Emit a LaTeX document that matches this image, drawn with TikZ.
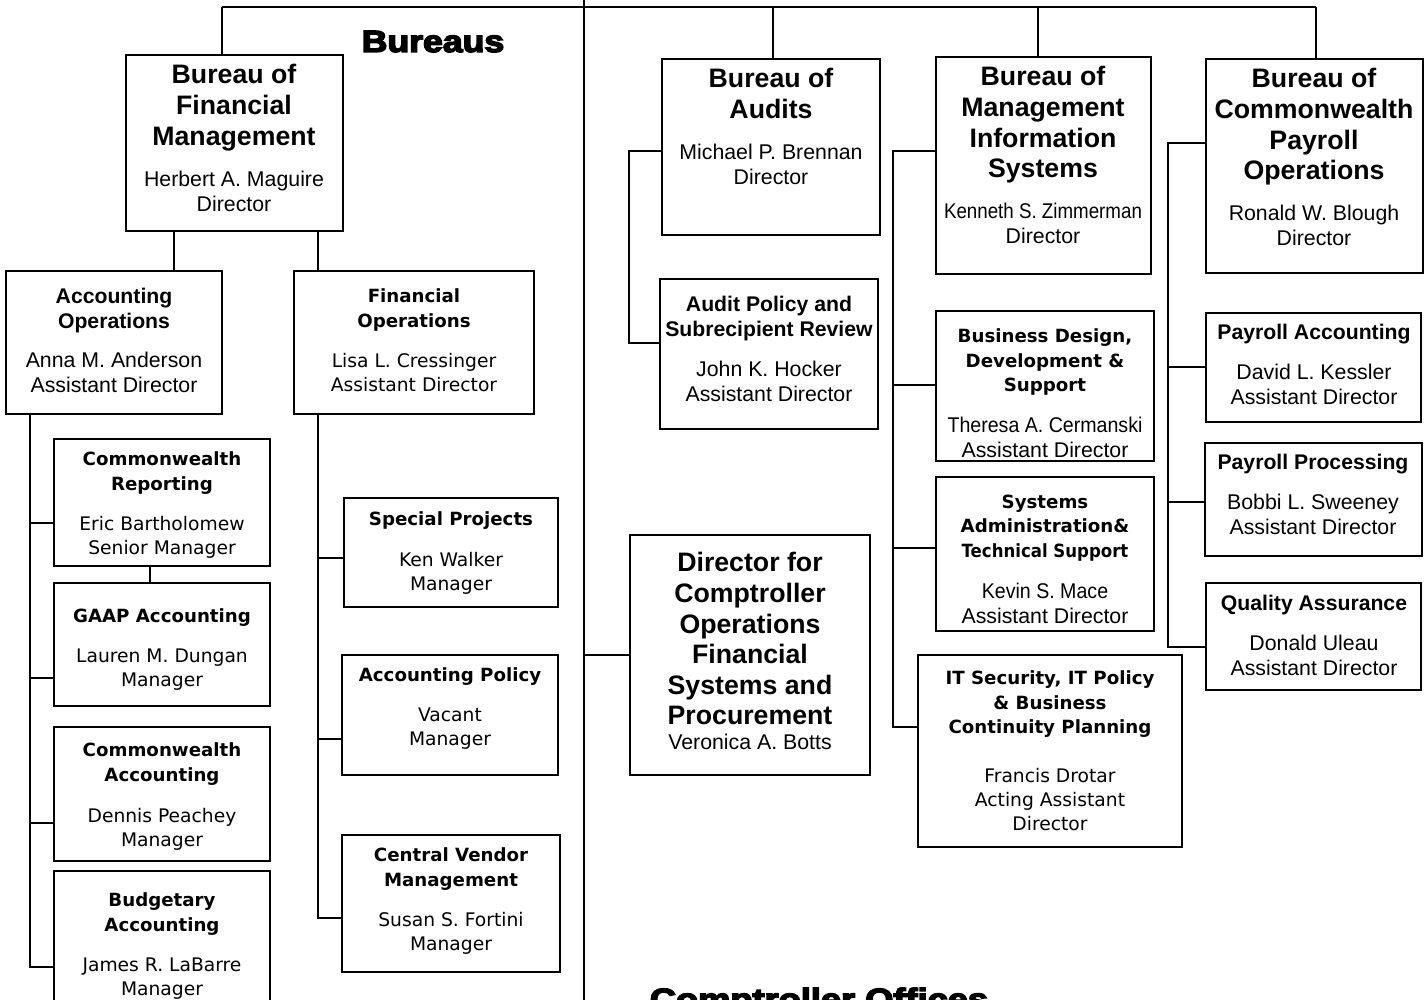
\documentclass[tikz,border=0pt]{standalone}
\usepackage{fontspec}
\usepackage{graphicx}
\setmainfont{Liberation Sans}
\newfontfamily\dvfont{DejaVu Sans}
\newfontfamily\heavyfont{Liberation Sans}[BoldFeatures={FakeBold=4.5}]
\newcommand\fBig{\fontsize{26.7}{30.6}\selectfont\bfseries}
\newcommand\fNm{\fontsize{21.3}{24.5}\selectfont}
\newcommand\fSt{\fontsize{21.2}{24.8}\selectfont\bfseries}
\newcommand\fDt{\dvfont\fontsize{18.2}{24.3}\selectfont\bfseries}
\newcommand\fDn{\dvfont\fontsize{18.7}{24.3}\selectfont}
\newcommand\fHead{\heavyfont\fontsize{30.7}{34}\selectfont\bfseries}
\newcommand\orgbox[5]{%
  \node[obox, minimum width={(#4-#2)*1pt}, minimum height={(#5-#3)*1pt}] (#1) at ({(#2+#4)/2},{(#3+#5)/2}) {};}
\begin{document}
\begin{tikzpicture}[x=1pt,y=-1pt,
  obox/.style={draw, line width=1.8pt, inner sep=0pt},
  tx/.style={anchor=north, align=center, inner sep=0pt},
  ln/.style={line width=1.7pt}]
\path[use as bounding box, clip] (0,0) rectangle (1428,1000);
\fill[white] (0,0) rectangle (1428,1000);

% headings
\node[anchor=base, inner sep=0pt, font=\fHead] (hb) at (433,52) {\scalebox{1.16}[1]{Bureaus}};
\node[anchor=base, inner sep=0pt, font=\fHead] (hc) at (819,1010) {\scalebox{1.18}[1]{Comptroller Offices}};

% boxes
\orgbox{bfm}{126}{55}{343}{231}
\node[tx, font=\fBig] (bfm-t) at (234,64.4) {Bureau of\\Financial\\Management};
\node[tx, font=\fNm] (bfm-n) at (234,171.3) {Herbert A. Maguire\\Director};

\orgbox{ao}{6}{271}{222}{414}
\node[tx, font=\fSt] (ao-t) at (114,288.4) {Accounting\\Operations};
\node[tx, font=\fNm] (ao-n) at (114,352.3) {Anna M. Anderson\\Assistant Director};

\orgbox{fo}{294}{271}{534}{414}
\node[tx, font=\fDt] (fo-t) at (414,288.8) {Financial\\Operations};
\node[tx, font=\fDn] (fo-n) at (414,352.6) {Lisa L. Cressinger\\Assistant Director};

\orgbox{cr}{54}{439}{270}{566}
\node[tx, font=\fDt] (cr-t) at (162,451.8) {Commonwealth\\Reporting};
\node[tx, font=\fDn] (cr-n) at (162,515.6) {Eric Bartholomew\\Senior Manager};

\orgbox{gaap}{54}{583}{270}{706}
\node[tx, font=\fDt] (gaap-t) at (162,608.8) {GAAP Accounting};
\node[tx, font=\fDn] (gaap-n) at (162,648.6) {Lauren M. Dungan\\Manager};

\orgbox{ca}{54}{727}{270}{861}
\node[tx, font=\fDt] (ca-t) at (162,742.8) {Commonwealth\\Accounting};
\node[tx, font=\fDn] (ca-n) at (162,807.6) {Dennis Peachey\\Manager};

\orgbox{ba}{54}{871}{270}{1012}
\node[tx, font=\fDt] (ba-t) at (162,892.8) {Budgetary\\Accounting};
\node[tx, font=\fDn] (ba-n) at (162,957.6) {James R. LaBarre\\Manager};

\orgbox{sp}{344}{498}{558}{607}
\node[tx, font=\fDt] (sp-t) at (451,511.8) {Special Projects};
\node[tx, font=\fDn] (sp-n) at (451,551.6) {Ken Walker\\Manager};

\orgbox{ap}{342}{655}{558}{775}
\node[tx, font=\fDt] (ap-t) at (450,667.8) {Accounting Policy};
\node[tx, font=\fDn] (ap-n) at (450,707.6) {Vacant\\Manager};

\orgbox{cvm}{342}{835}{560}{972}
\node[tx, font=\fDt] (cvm-t) at (451,847.8) {Central Vendor\\Management};
\node[tx, font=\fDn] (cvm-n) at (451,911.6) {Susan S. Fortini\\Manager};

\orgbox{aud}{662}{59}{880}{235}
\node[tx, font=\fBig] (aud-t) at (771,68.4) {Bureau of\\Audits};
\node[tx, font=\fNm] (aud-n) at (771,144.3) {Michael P. Brennan\\Director};

\orgbox{apsr}{660}{279}{878}{429}
\node[tx, font=\fSt] (apsr-t) at (769,296.4) {Audit Policy and\\Subrecipient Review};
\node[tx, font=\fNm] (apsr-n) at (769,361.3) {John K. Hocker\\Assistant Director};

\orgbox{dco}{630}{535}{870}{775}
\node[tx, font=\fBig] (dco-t) at (750,552.4) {Director for\\Comptroller\\Operations\\Financial\\Systems and\\Procurement};
\node[tx, font=\fNm] (dco-n) at (750,734.3) {Veronica A. Botts};

\orgbox{bmis}{936}{57}{1151}{274}
\node[tx, font=\fBig] (bmis-t) at (1043,66.4) {Bureau of\\Management\\Information\\Systems};
\node[tx, font=\fNm] (bmis-n) at (1043,203.3) {\scalebox{0.88}[1]{Kenneth S. Zimmerman}\\Director};

\orgbox{bdd}{936}{311}{1154}{461}
\node[tx, font=\fDt] (bdd-t) at (1045,328.8) {Business Design,\\Development \&\\Support};
\node[tx, font=\fNm] (bdd-n) at (1045,417.3) {\scalebox{0.92}[1]{Theresa A. Cermanski}\\Assistant Director};

\orgbox{sat}{936}{477}{1154}{631}
\node[tx, font=\fDt] (sat-t) at (1045,494.8) {Systems\\Administration\&\\\scalebox{0.91}[1]{Technical Support}};
\node[tx, font=\fNm] (sat-n) at (1045,583.3) {\scalebox{0.92}[1]{Kevin S. Mace}\\Assistant Director};

\orgbox{its}{918}{655}{1182}{847}
\node[tx, font=\fDt] (its-t) at (1050,670.8) {IT Security, IT Policy\\\& Business\\Continuity Planning};
\node[tx, font=\fDn] (its-n) at (1050,767.6) {Francis Drotar\\Acting Assistant\\Director};

\orgbox{bcpo}{1206}{59}{1423}{273}
\node[tx, font=\fBig] (bcpo-t) at (1314,68.4) {Bureau of\\Commonwealth\\Payroll\\Operations};
\node[tx, font=\fNm] (bcpo-n) at (1314,205.3) {Ronald W. Blough\\Director};

\orgbox{pa}{1206}{313}{1421}{422}
\node[tx, font=\fSt] (pa-t) at (1314,324.4) {Payroll Accounting};
\node[tx, font=\fNm] (pa-n) at (1314,364.3) {David L. Kessler\\Assistant Director};

\orgbox{pp}{1205}{443}{1422}{556}
\node[tx, font=\fSt] (pp-t) at (1313,454.4) {Payroll Processing};
\node[tx, font=\fNm] (pp-n) at (1313,494.3) {Bobbi L. Sweeney\\Assistant Director};

\orgbox{qa}{1206}{583}{1421}{690}
\node[tx, font=\fSt] (qa-t) at (1314,595.4) {Quality Assurance};
\node[tx, font=\fNm] (qa-n) at (1314,635.3) {Donald Uleau\\Assistant Director};

% top bar and trunk
\coordinate (tl) at (222,7);
\coordinate (tr) at (1316,7);
\coordinate (ta) at (773,7);
\coordinate (tm) at (1038,7);
\coordinate (trunkTop) at (584,0);
\coordinate (trunkBot) at (584,1000);
\draw[ln] (tl) -- (tr);
\draw[ln] (trunkTop) -- (trunkBot);
\draw[ln] (tl) -- (tl |- bfm.north);
\draw[ln] (ta) -- (ta |- aud.north);
\draw[ln] (tm) -- (tm |- bmis.north);
\draw[ln] (tr) -- (tr |- bcpo.north);
\draw[ln] (trunkTop |- dco.west) -- (dco.west);

% bureau of financial management
\coordinate (xa) at (174,0);
\coordinate (xf) at (318,0);
\draw[ln] (xa |- bfm.south) -- (xa |- ao.north);
\draw[ln] (xf |- bfm.south) -- (xf |- fo.north);

% accounting operations
\coordinate (aoEnd) at (30,967);
\draw[ln] (aoEnd |- ao.south) -- (aoEnd) -- (aoEnd -| ba.west);
\coordinate (j1) at (30,523); \draw[ln] (j1) -- (j1 -| cr.west);
\coordinate (j2) at (30,678); \draw[ln] (j2) -- (j2 -| gaap.west);
\coordinate (j3) at (30,823); \draw[ln] (j3) -- (j3 -| ca.west);
\coordinate (xc) at (150,0);
\draw[ln] (xc |- cr.south) -- (xc |- gaap.north);

% financial operations
\coordinate (foEnd) at (318,918);
\draw[ln] (foEnd |- fo.south) -- (foEnd) -- (foEnd -| cvm.west);
\coordinate (k1) at (318,558); \draw[ln] (k1) -- (k1 -| sp.west);
\coordinate (k2) at (318,739); \draw[ln] (k2) -- (k2 -| ap.west);

% audits
\coordinate (a1) at (629,151);
\coordinate (a2) at (629,343);
\draw[ln] (a1 -| aud.west) -- (a1) -- (a2) -- (a2 -| apsr.west);

% management information systems
\coordinate (m1) at (893,151);
\coordinate (m4) at (893,727);
\draw[ln] (m1 -| bmis.west) -- (m1) -- (m4) -- (m4 -| its.west);
\coordinate (m2) at (893,385); \draw[ln] (m2) -- (m2 -| bdd.west);
\coordinate (m3) at (893,548); \draw[ln] (m3) -- (m3 -| sat.west);

% commonwealth payroll operations
\coordinate (p1) at (1168,143);
\coordinate (p4) at (1168,647);
\draw[ln] (p1 -| bcpo.west) -- (p1) -- (p4) -- (p4 -| qa.west);
\coordinate (p2) at (1168,367); \draw[ln] (p2) -- (p2 -| pa.west);
\coordinate (p3) at (1168,502); \draw[ln] (p3) -- (p3 -| pp.west);
\end{tikzpicture}
\end{document}
